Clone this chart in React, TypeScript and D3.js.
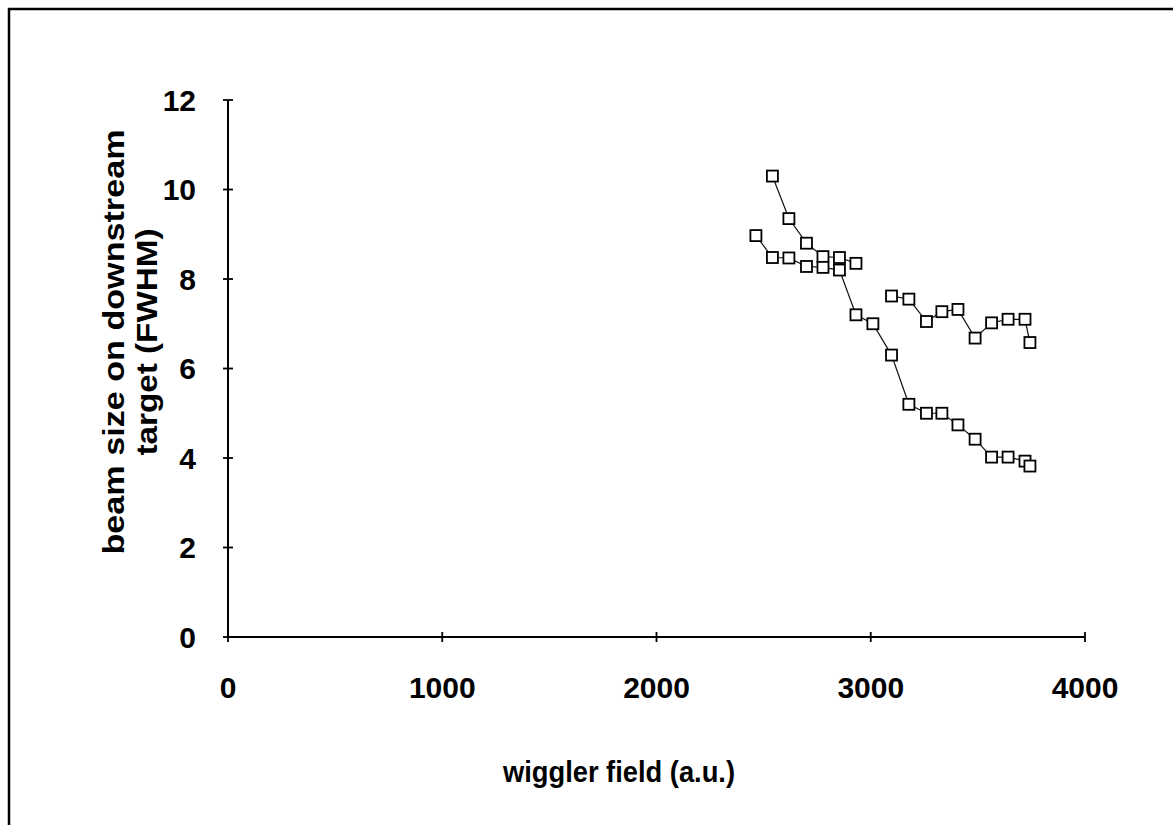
import React from "react";
import * as d3 from "d3";

const xTicks = [0, 1000, 2000, 3000, 4000];
const yTicks = [0, 2, 4, 6, 8, 10, 12];

const xSeriesA = [2541, 2618, 2700, 2777, 2854, 2931];
const ySeriesA = [10.3, 9.35, 8.8, 8.5, 8.48, 8.35];

const xSeriesB = [2464, 2541, 2618, 2700, 2777, 2854, 2931, 3010, 3097, 3178, 3260, 3332, 3407, 3487, 3564, 3641, 3720, 3743];
const ySeriesB = [8.97, 8.48, 8.47, 8.28, 8.26, 8.2, 7.2, 7.0, 6.3, 5.2, 5.0, 5.0, 4.74, 4.42, 4.02, 4.02, 3.93, 3.82];

const xSeriesC = [3097, 3178, 3260, 3332, 3407, 3487, 3564, 3641, 3720, 3743];
const ySeriesC = [7.62, 7.55, 7.05, 7.27, 7.32, 6.68, 7.02, 7.1, 7.1, 6.58];

const xTitle = "wiggler field (a.u.)";
const yTitle1 = "beam size on downstream";
const yTitle2 = "target (FWHM)";

const W = 1173;
const H = 825;
const FONT = "'Liberation Sans', Arial, sans-serif";

export default function App() {
  const x = d3.scaleLinear().domain([0, 4000]).range([228, 1085]);
  const y = d3.scaleLinear().domain([0, 12]).range([637, 100]);

  const series = [
    { xs: xSeriesA, ys: ySeriesA },
    { xs: xSeriesB, ys: ySeriesB },
    { xs: xSeriesC, ys: ySeriesC },
  ];

  const line = d3
    .line<[number, number]>()
    .x((d) => x(d[0]))
    .y((d) => y(d[1]));

  const sq = 11;

  return (
    <svg
      width={W}
      height={H}
      style={{ position: "absolute", left: 0, top: 0, display: "block", background: "#fff" }}
    >
      {/* figure frame */}
      <line x1={8} y1={9} x2={W} y2={9} stroke="#000" strokeWidth={2.5} />
      <line x1={9} y1={8} x2={9} y2={H} stroke="#000" strokeWidth={2.5} />

      {/* axes */}
      <line x1={x(0)} y1={y(0)} x2={x(0)} y2={y(12)} stroke="#000" strokeWidth={2} />
      <line x1={x(0)} y1={y(0)} x2={x(4000)} y2={y(0)} stroke="#000" strokeWidth={2} />
      {yTicks.map((t) => (
        <g key={"yt" + t}>
          <line x1={x(0) - 5} x2={x(0) + 5} y1={y(t)} y2={y(t)} stroke="#000" strokeWidth={1.8} />
          <text
            x={196}
            y={y(t)}
            textAnchor="end"
            dominantBaseline="central"
            fontFamily={FONT}
            fontWeight={700}
            fontSize={30}
            fill="#000"
          >
            {t}
          </text>
        </g>
      ))}
      {xTicks.map((t) => (
        <g key={"xt" + t}>
          <line x1={x(t)} x2={x(t)} y1={y(0) - 5} y2={y(0) + 5} stroke="#000" strokeWidth={1.8} />
          <text
            x={x(t)}
            y={687}
            textAnchor="middle"
            dominantBaseline="central"
            fontFamily={FONT}
            fontWeight={700}
            fontSize={30}
            fill="#000"
          >
            {t}
          </text>
        </g>
      ))}

      {/* titles */}
      <text
        x={619}
        y={771}
        textAnchor="middle"
        dominantBaseline="central"
        fontFamily={FONT}
        fontWeight={700}
        fontSize={30}
        textLength={232}
        lengthAdjust="spacingAndGlyphs"
        fill="#000"
      >
        {xTitle}
      </text>
      <text
        transform={`translate(113,342) rotate(-90)`}
        textAnchor="middle"
        dominantBaseline="central"
        fontFamily={FONT}
        fontWeight={700}
        fontSize={30}
        textLength={425}
        lengthAdjust="spacingAndGlyphs"
        fill="#000"
      >
        {yTitle1}
      </text>
      <text
        transform={`translate(146,342) rotate(-90)`}
        textAnchor="middle"
        dominantBaseline="central"
        fontFamily={FONT}
        fontWeight={700}
        fontSize={30}
        textLength={227}
        lengthAdjust="spacingAndGlyphs"
        fill="#000"
      >
        {yTitle2}
      </text>

      {/* series */}
      {series.map((s, i) => {
        const pts = s.xs.map((v, j) => [v, s.ys[j]] as [number, number]);
        return (
          <g key={"s" + i}>
            <path d={line(pts) || ""} fill="none" stroke="#111" strokeWidth={1.2} />
            {pts.map((p, j) => (
              <rect
                key={j}
                x={x(p[0]) - sq / 2}
                y={y(p[1]) - sq / 2}
                width={sq}
                height={sq}
                fill="#fff"
                stroke="#000"
                strokeWidth={1.8}
              />
            ))}
          </g>
        );
      })}
    </svg>
  );
}
